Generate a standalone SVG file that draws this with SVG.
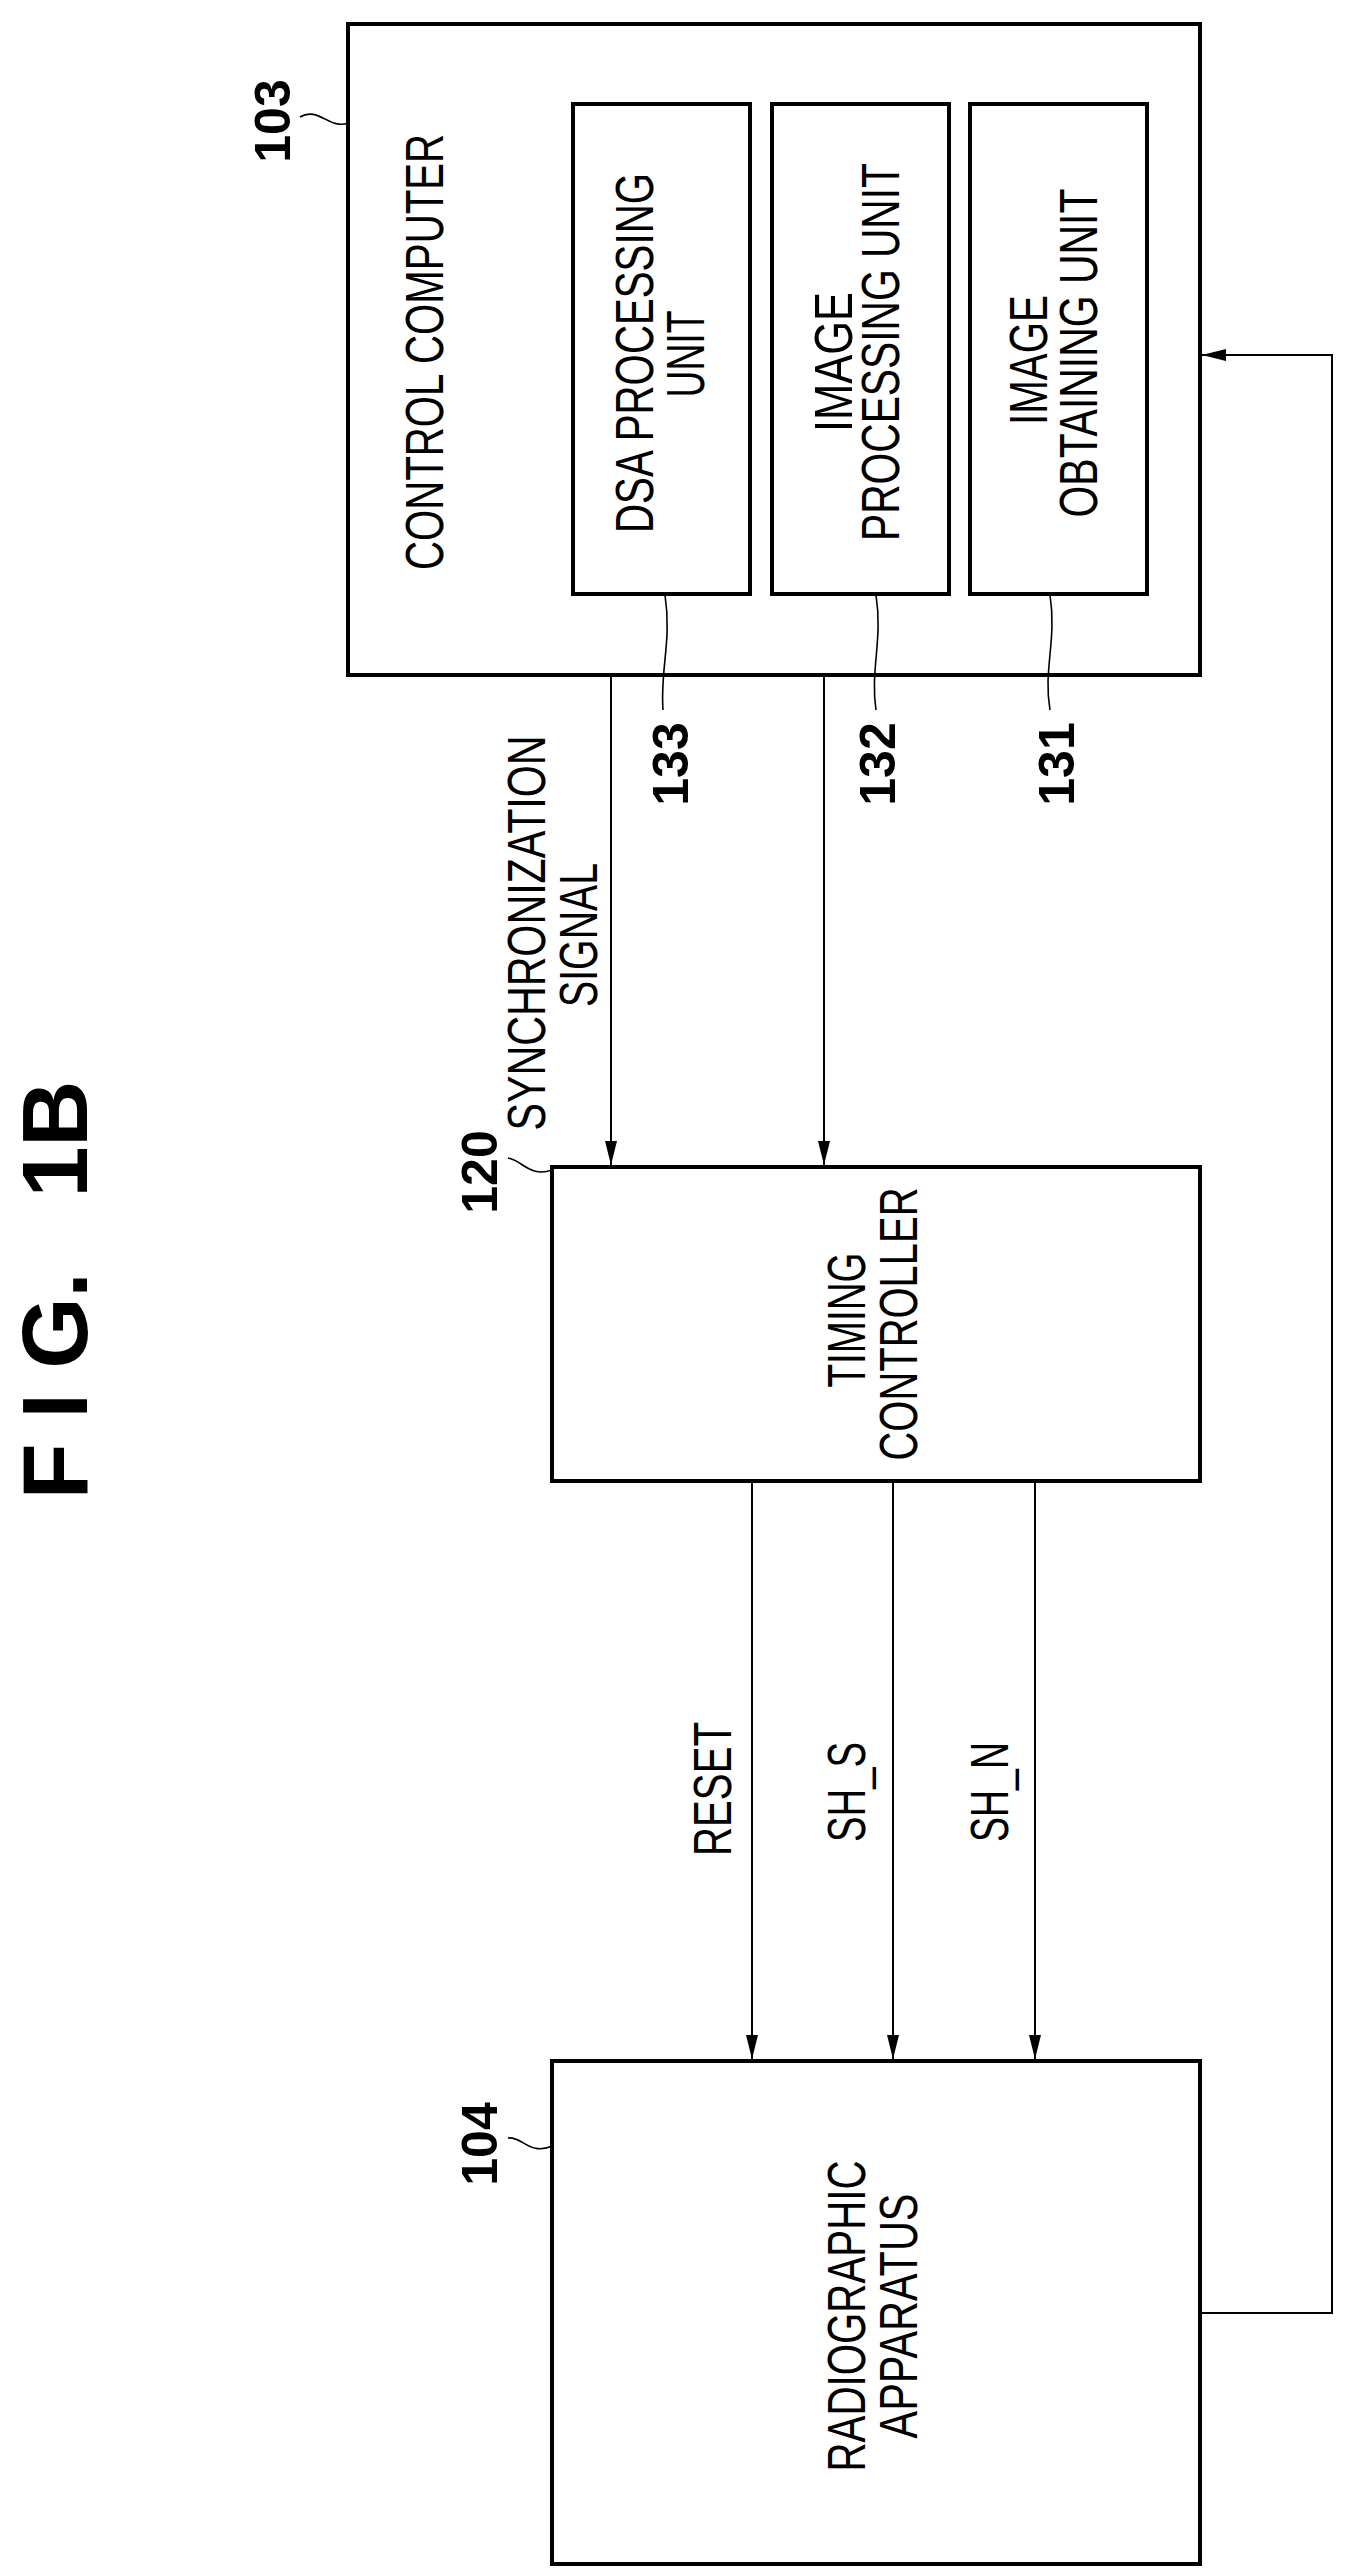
<svg xmlns="http://www.w3.org/2000/svg" width="1356" height="2573" viewBox="0 0 1356 2573">
<style>
.box{fill:none;stroke:#000;stroke-width:4}
.ln{fill:none;stroke:#000;stroke-width:2}
.lead{fill:none;stroke:#000;stroke-width:1.6}
.t{font-family:"Liberation Sans",Arial,sans-serif;font-size:54px;text-anchor:middle;fill:#000}
.n{font-family:"Liberation Sans",Arial,sans-serif;font-size:50px;font-weight:bold;text-anchor:middle;fill:#000}
.fig{font-family:"Liberation Sans",Arial,sans-serif;font-size:92px;font-weight:bold;text-anchor:middle;fill:#000;white-space:pre}
</style>
<defs>
<marker id="arr" markerWidth="24" markerHeight="12" refX="24" refY="6" orient="auto" markerUnits="userSpaceOnUse">
<path d="M0,0 L24,6 L0,12 Z" fill="#000"/>
</marker>
</defs>
<rect width="1356" height="2573" fill="#fff"/>
<text class="fig" xml:space="preserve" transform="translate(87,1290) rotate(-90)" textLength="419" lengthAdjust="spacing">F I G.   1B</text>

<g id="control-computer">
<rect class="box" x="348" y="24" width="852" height="651"/>
<text class="t" transform="translate(443,352) rotate(-90)" textLength="436" lengthAdjust="spacingAndGlyphs">CONTROL COMPUTER</text>
<text class="n" transform="translate(290,121) rotate(-90)">103</text>
<path class="lead" d="M300,117 C318,106 330,130 348,123"/>
</g>
<g id="dsa-unit">
<rect class="box" x="573" y="104" width="177" height="490"/>
<text class="t" transform="translate(653,353) rotate(-90)" textLength="360" lengthAdjust="spacingAndGlyphs">DSA PROCESSING</text>
<text class="t" transform="translate(704,354) rotate(-90)" textLength="87" lengthAdjust="spacingAndGlyphs">UNIT</text>
<path class="lead" d="M665,595 C672,640 660,670 663,710"/>
<text class="n" transform="translate(688,764) rotate(-90)">133</text>
</g>
<g id="image-processing-unit">
<rect class="box" x="772" y="104" width="177" height="490"/>
<text class="t" transform="translate(852,362) rotate(-90)" textLength="140" lengthAdjust="spacingAndGlyphs">IMAGE</text>
<text class="t" transform="translate(899,352) rotate(-90)" textLength="378" lengthAdjust="spacingAndGlyphs">PROCESSING UNIT</text>
<path class="lead" d="M876,595 C883,640 870,670 876,710"/>
<text class="n" transform="translate(895,764) rotate(-90)">132</text>
</g>
<g id="image-obtaining-unit">
<rect class="box" x="970" y="104" width="177" height="490"/>
<text class="t" transform="translate(1047,360) rotate(-90)" textLength="130" lengthAdjust="spacingAndGlyphs">IMAGE</text>
<text class="t" transform="translate(1097,353) rotate(-90)" textLength="329" lengthAdjust="spacingAndGlyphs">OBTAINING UNIT</text>
<path class="lead" d="M1050,595 C1057,640 1043,670 1050,710"/>
<text class="n" transform="translate(1074,764) rotate(-90)">131</text>
</g>

<g id="timing-controller">
<rect class="box" x="552" y="1167" width="648" height="314"/>
<text class="t" transform="translate(865,1320) rotate(-90)" textLength="135" lengthAdjust="spacingAndGlyphs">TIMING</text>
<text class="t" transform="translate(917,1324) rotate(-90)" textLength="273" lengthAdjust="spacingAndGlyphs">CONTROLLER</text>
<text class="n" transform="translate(497,1172) rotate(-90)">120</text>
<path class="lead" d="M508,1158 C522,1160 530,1178 552,1170"/>
</g>

<g id="radiographic-apparatus">
<rect class="box" x="552" y="2061" width="648" height="503"/>
<text class="t" transform="translate(865,2316) rotate(-90)" textLength="311" lengthAdjust="spacingAndGlyphs">RADIOGRAPHIC</text>
<text class="t" transform="translate(917,2316) rotate(-90)" textLength="245" lengthAdjust="spacingAndGlyphs">APPARATUS</text>
<text class="n" transform="translate(497,2144) rotate(-90)">104</text>
<path class="lead" d="M508,2138 C522,2136 530,2156 552,2146"/>
</g>

<g id="connectors">
<line class="ln" x1="611" y1="675" x2="611" y2="1165" marker-end="url(#arr)"/>
<line class="ln" x1="824" y1="675" x2="824" y2="1165" marker-end="url(#arr)"/>
<line class="ln" x1="752" y1="1481" x2="752" y2="2059" marker-end="url(#arr)"/>
<line class="ln" x1="893" y1="1481" x2="893" y2="2059" marker-end="url(#arr)"/>
<line class="ln" x1="1035" y1="1481" x2="1035" y2="2059" marker-end="url(#arr)"/>
<polyline class="ln" points="1200,2313 1332,2313 1332,355 1202,355" marker-end="url(#arr)"/>
<text class="t" transform="translate(545,933) rotate(-90)" textLength="395" lengthAdjust="spacingAndGlyphs">SYNCHRONIZATION</text>
<text class="t" transform="translate(597,935) rotate(-90)" textLength="144" lengthAdjust="spacingAndGlyphs">SIGNAL</text>
<text class="t" transform="translate(731,1789) rotate(-90)" textLength="134" lengthAdjust="spacingAndGlyphs">RESET</text>
<text class="t" transform="translate(865,1792) rotate(-90)" textLength="100" lengthAdjust="spacingAndGlyphs">SH_S</text>
<text class="t" transform="translate(1008,1792) rotate(-90)" textLength="100" lengthAdjust="spacingAndGlyphs">SH_N</text>
</g>
</svg>
